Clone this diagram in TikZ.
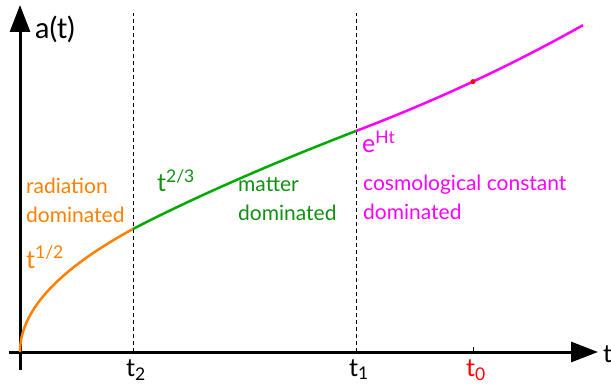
\documentclass[tikz,border=0pt]{standalone}
\usepackage{fontspec}
\setmainfont{Lato}
\usetikzlibrary{arrows.meta}
\definecolor{ink}{HTML}{000000}
\definecolor{radorange}{HTML}{FF8000}
\definecolor{matgreen}{HTML}{00AA00}
\definecolor{mattext}{HTML}{119011}
\definecolor{lambdamag}{HTML}{FF00FF}
\definecolor{nowred}{HTML}{FF0000}
\newcommand{\LabelF}{\fontsize{21}{29}\selectfont}
\newcommand{\AxisF}{\fontsize{25}{30}\selectfont}
\newcommand{\epochcut}[3]{%
  \coordinate (#2bot) at (#1,37);
  \coordinate (#2top) at (#1,376);
  \draw[cutline] (#2bot) -- (#2top);
  \node[anchor=base, font=\AxisF, text=ink, inner sep=0pt] (#2lab) at (#1+3,13) {t\textsubscript{#3}};
}

\begin{document}
\begin{tikzpicture}[x=1pt,y=1pt,
  axis/.style={ink, line width=3pt, -{Triangle[length=27pt, width=20pt]}},
  cutline/.style={ink, line width=0.8pt, dash pattern=on 4pt off 3pt},
  curve/.style={line width=2.5pt}]
\useasboundingbox (0,0) rectangle (611,389);
% axes
\coordinate (origin) at (20,37);
\coordinate (ybot) at (20,19);
\coordinate (ytop) at (20,384);
\coordinate (xleft) at (9,37);
\coordinate (xright) at (598,37);
\draw[axis] (ybot) -- (ytop);
\draw[axis] (xleft) -- (xright);
\node[anchor=base west, font=\fontsize{29}{34}\selectfont, text=ink, inner sep=0pt] (alab) at (35,350) {a(t)};
\node[anchor=base west, font=\AxisF, text=ink, inner sep=0pt] (tlab) at (603,27) {t};
% epochs
\epochcut{133}{eq}{2}
\epochcut{356}{lam}{1}
\coordinate (nowbot) at (473,37);
\coordinate (nowtop) at (473,42);
\draw[ink, line width=0.8pt] (nowbot) -- (nowtop);
\node[anchor=base, font=\AxisF, text=nowred, inner sep=0pt] (nowlab) at (476,13) {t\textsubscript{0}};
% scale factor
\draw[curve, radorange] plot[domain=0:1, samples=60] ({20+113*\x*\x},{37+123*\x});
\draw[curve, matgreen] plot[domain=133:356, samples=40] (\x,{37+4.2037*exp(ln(\x+25.3)*2/3)});
\draw[curve, lambdamag] plot[domain=356:583, samples=40] (\x,{37+221*exp(0.001726*(\x-356))});
\fill[nowred] (473,307.4) circle (2.5pt);
% labels (base = last line)
\node[anchor=base west, font=\LabelF, text=radorange, align=left, inner sep=0pt] (radlab) at (26,167) {radiation\\dominated};
\node[anchor=base west, font=\AxisF, text=radorange, inner sep=0pt] (radpow) at (26,121) {t\textsuperscript{1/2}};
\node[anchor=base west, font=\AxisF, text=mattext, inner sep=0pt] (matpow) at (157,197) {t\textsuperscript{2/3}};
\node[anchor=base west, font=\LabelF, text=mattext, align=left, inner sep=0pt] (matlab) at (238,168) {matter\\dominated};
\node[anchor=base west, font=\AxisF, text=lambdamag, inner sep=0pt] (lampow) at (362,236) {e\textsuperscript{Ht}};
\node[anchor=base west, font=\LabelF, text=lambdamag, align=left, inner sep=0pt] (lamlab) at (363,169) {cosmological constant\\dominated};
\end{tikzpicture}
\end{document}
